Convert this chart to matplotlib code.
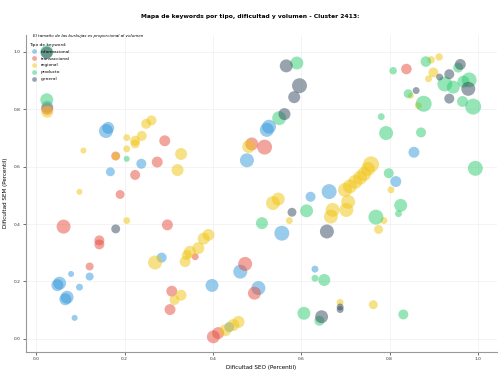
import matplotlib
matplotlib.use("Agg")
import matplotlib.pyplot as plt
from matplotlib.lines import Line2D

# ---- data: (Dificultad SEO, Dificultad SEM, volumen) per keyword type ----
info_seo = [0.025, 0.158, 0.163, 0.238, 0.168, 0.527, 0.522, 0.477, 0.855, 0.814,
            0.663, 0.621, 0.284, 0.556, 0.462, 0.398, 0.503, 0.437, 0.631, 0.121,
            0.079, 0.053, 0.098, 0.070, 0.087, 0.048, 0.066]
info_sem = [0.808, 0.724, 0.735, 0.610, 0.582, 0.739, 0.728, 0.622, 0.650, 0.548,
            0.513, 0.495, 0.283, 0.368, 0.234, 0.186, 0.177, 0.041, 0.243, 0.217,
            0.226, 0.194, 0.180, 0.145, 0.073, 0.187, 0.138]
info_vol = [360, 490, 360, 250, 200, 490, 490, 490, 300, 300,
            560, 250, 250, 560, 490, 420, 490, 250, 120, 160,
            90, 420, 120, 420, 90, 360, 360]

trans_seo = [0.025, 0.291, 0.274, 0.224, 0.190, 0.180, 0.488, 0.517, 0.838, 0.297,
             0.360, 0.473, 0.494, 0.307, 0.303, 0.401, 0.412, 0.062, 0.143, 0.143, 0.121]
trans_sem = [0.801, 0.690, 0.616, 0.571, 0.503, 0.637, 0.679, 0.668, 0.940, 0.397,
             0.286, 0.261, 0.159, 0.166, 0.102, 0.007, 0.020, 0.391, 0.343, 0.329, 0.252]
trans_vol = [360, 300, 300, 250, 200, 200, 420, 560, 280, 300,
             120, 490, 420, 300, 300, 420, 360, 490, 250, 250, 160]

reg_seo = [0.025, 0.205, 0.224, 0.224, 0.239, 0.249, 0.261, 0.205, 0.180, 0.107,
           0.328, 0.320, 0.098, 0.481, 0.894, 0.912, 0.899, 0.888, 0.848, 0.865,
           0.699, 0.710, 0.722, 0.733, 0.742, 0.751, 0.758, 0.706, 0.702, 0.671,
           0.667, 0.803, 0.787, 0.775, 0.536, 0.548, 0.573, 0.205, 0.269, 0.390,
           0.379, 0.367, 0.348, 0.341, 0.337, 0.328, 0.313, 0.428, 0.446, 0.458,
           0.688, 0.763]
reg_sem = [0.791, 0.701, 0.690, 0.679, 0.707, 0.749, 0.761, 0.662, 0.636, 0.656,
           0.644, 0.588, 0.512, 0.670, 0.972, 0.982, 0.928, 0.906, 0.847, 0.813,
           0.519, 0.531, 0.547, 0.561, 0.574, 0.592, 0.608, 0.477, 0.449, 0.449,
           0.426, 0.519, 0.412, 0.381, 0.473, 0.487, 0.412, 0.412, 0.266, 0.362,
           0.349, 0.316, 0.303, 0.292, 0.269, 0.152, 0.135, 0.030, 0.048, 0.059,
           0.127, 0.119]
reg_vol = [360, 120, 250, 200, 250, 250, 250, 120, 160, 90,
           360, 360, 90, 420, 140, 140, 250, 120, 90, 120,
           490, 490, 490, 490, 490, 490, 640, 490, 490, 490,
           490, 120, 120, 200, 490, 420, 120, 120, 490, 360,
           360, 360, 360, 250, 300, 300, 250, 360, 360, 360,
           120, 200]

prod_seo = [0.024, 0.024, 0.205, 0.590, 0.550, 0.882, 0.955, 0.808, 0.925, 0.944,
            0.967, 0.980, 0.842, 0.965, 0.989, 0.877, 0.781, 0.792, 0.871, 0.798,
            0.994, 0.825, 0.820, 0.769, 0.612, 0.511, 0.631, 0.652, 0.606, 0.641,
            0.831]
prod_sem = [1.000, 0.833, 0.627, 0.961, 0.769, 0.966, 0.945, 0.934, 0.888, 0.877,
            0.896, 0.902, 0.854, 0.827, 0.809, 0.819, 0.774, 0.717, 0.719, 0.577,
            0.594, 0.465, 0.436, 0.424, 0.446, 0.403, 0.211, 0.205, 0.089, 0.063,
            0.085]
prod_vol = [420, 420, 90, 420, 490, 280, 250, 140, 560, 420,
            360, 560, 200, 300, 640, 640, 120, 490, 250, 250,
            560, 420, 120, 560, 420, 360, 120, 360, 420, 250,
            250]

gen_seo = [0.024, 0.566, 0.596, 0.584, 0.562, 0.960, 0.913, 0.935, 0.978, 0.860,
           0.935, 0.579, 0.658, 0.180, 0.646, 0.688, 0.688]
gen_sem = [0.997, 0.951, 0.882, 0.842, 0.783, 0.956, 0.912, 0.922, 0.871, 0.865,
           0.837, 0.441, 0.374, 0.383, 0.077, 0.111, 0.102]
gen_vol = [360, 420, 560, 360, 360, 300, 120, 250, 490, 120,
           250, 200, 490, 200, 420, 120, 120]

tipos = ["informacional", "transaccional", "regional", "producto", "general"]
colores = ["#3498db", "#e74c3c", "#f1c40f", "#2ecc71", "#34495e"]
series = [(info_seo, info_sem, info_vol), (trans_seo, trans_sem, trans_vol),
          (reg_seo, reg_sem, reg_vol), (prod_seo, prod_sem, prod_vol),
          (gen_seo, gen_sem, gen_vol)]

fig = plt.figure(figsize=(5, 3.75), dpi=100)
ax = fig.add_axes([0.052, 0.062, 0.942, 0.845])

for (xs, ys, vs), col in zip(series, colores):
    ax.scatter(xs, ys, s=[v * 0.207 for v in vs], color=col, alpha=0.5,
               edgecolors="none", zorder=3)

ax.set_xlim(-0.023, 1.043)
ax.set_ylim(-0.045, 1.059)
ax.set_xticks([0.0, 0.2, 0.4, 0.6, 0.8, 1.0])
ax.set_yticks([0.0, 0.2, 0.4, 0.6, 0.8, 1.0])
ax.tick_params(labelsize=3.2, length=2, width=0.5, pad=2, colors="#333333")
ax.grid(True, color="#f0f0f0", linewidth=0.5, zorder=0)
for side in ["top", "right"]:
    ax.spines[side].set_visible(False)
for side in ["left", "bottom"]:
    ax.spines[side].set_color("#999999")
    ax.spines[side].set_linewidth(0.8)

ax.set_xlabel("Dificultad SEO (Percentil)", fontsize=4.1, labelpad=2.5)
ax.set_ylabel("Dificultad SEM (Percentil)", fontsize=4.1, labelpad=4)
fig.suptitle("Mapa de keywords por tipo, dificultad y volumen - Cluster 2413:",
             fontsize=4.3, fontweight="bold", y=0.962)

ax.text(0.014, 0.997, "El tamaño de las burbujas es proporcional al volumen",
        transform=ax.transAxes, fontsize=2.95, style="italic", va="center", ha="left")

handles = [Line2D([], [], marker="o", linestyle="none", markersize=3.4,
                  markerfacecolor=c, markeredgecolor="none", alpha=0.5) for c in colores]
leg = ax.legend(handles, tipos, title="Tipo de keyword:", loc="upper left",
                bbox_to_anchor=(0.0, 0.985), frameon=False, fontsize=3.2,
                title_fontsize=3.2, handletextpad=0.7, labelspacing=0.63,
                borderaxespad=0.3)
leg._legend_box.align = "left"

fig.savefig("out.png", dpi=100)
